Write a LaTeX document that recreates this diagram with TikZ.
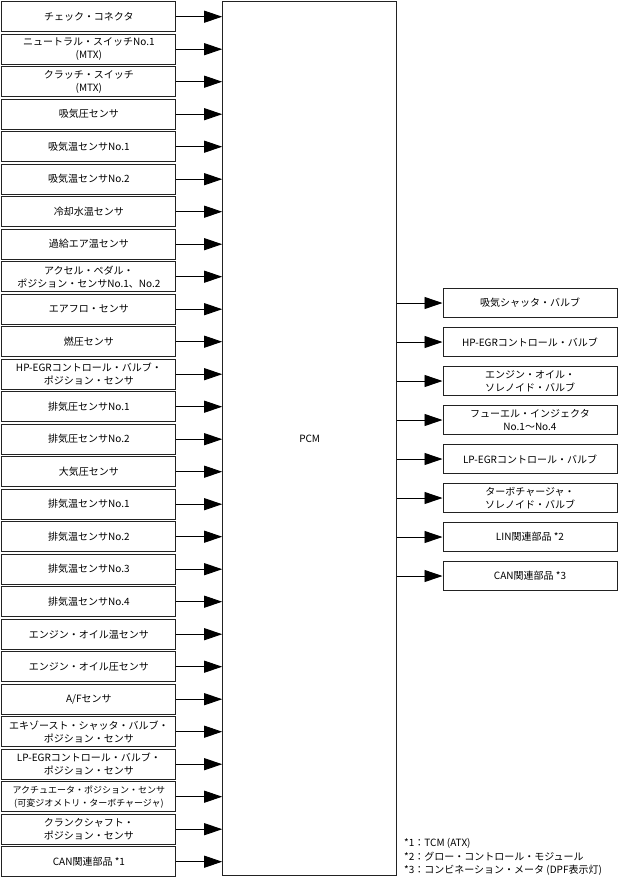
\documentclass[tikz,border=0pt]{standalone}
\usepackage{fontspec}
\setmainfont{Noto Sans CJK JP}
\usetikzlibrary{arrows.meta,positioning}
\definecolor{boxline}{HTML}{222222}
\tikzset{
  inbox/.style={
    draw=boxline,
    line width=1pt,
    minimum width=174pt,
    minimum height=30pt,
    inner sep=1pt,
    align=center,
    font=\fontsize{10}{13.3}\selectfont
  },
  outbox/.style={
    inbox,
    minimum height=29pt
  },
  pcmbox/.style={
    draw=boxline,
    line width=1pt,
    minimum width=174pt,
    minimum height=874pt,
    font=\fontsize{10}{13.3}\selectfont
  },
  notetext/.style={
    inner sep=0pt,
    align=left,
    font=\fontsize{10}{13.5}\selectfont
  },
  arrow/.style={
    -{Triangle[length=18pt,width=12pt]},
    line width=0.9pt,
    draw=black
  }
}
\begin{document}
\begin{tikzpicture}[x=1pt,y=-1pt]
\useasboundingbox (0,0) rectangle (619,878);
\node[pcmbox] (pcm) at (309.7,438.7) {PCM};
% inputs
\foreach \i/\txt in {1/{チェック・コネクタ},
    2/{ニュートラル・スイッチNo.1\\(MTX)},
    3/{クラッチ・スイッチ\\(MTX)},
    4/{吸気圧センサ},
    5/{吸気温センサNo.1},
    6/{吸気温センサNo.2},
    7/{冷却水温センサ},
    8/{過給エア温センサ},
    9/{アクセル・ペダル・\\ポジション・センサNo.1、No.2},
    10/{エアフロ・センサ},
    11/{燃圧センサ},
    12/{HP-EGRコントロール・バルブ・\\ポジション・センサ},
    13/{排気圧センサNo.1},
    14/{排気圧センサNo.2},
    15/{大気圧センサ},
    16/{排気温センサNo.1},
    17/{排気温センサNo.2},
    18/{排気温センサNo.3},
    19/{排気温センサNo.4},
    20/{エンジン・オイル温センサ},
    21/{エンジン・オイル圧センサ},
    22/{A/Fセンサ},
    23/{エキゾースト・シャッタ・バルブ・\\ポジション・センサ},
    24/{LP-EGRコントロール・バルブ・\\ポジション・センサ},
    26/{クランクシャフト・\\ポジション・センサ},
    27/{CAN関連部品 *1}} {
  \node[inbox] (in\i) at (88.9,{16.7+32.5*(\i-1)}) {\txt};
}
\node[inbox, font=\fontsize{9}{13}\selectfont] (in25) at (88.9,{16.7+32.5*24})
  {アクチュエータ・ポジション・センサ\\(可変ジオメトリ・ターボチャージャ)};
% outputs
\foreach \i/\txt in {1/{吸気シャッタ・バルブ},
    2/{HP-EGRコントロール・バルブ},
    3/{エンジン・オイル・\\ソレノイド・バルブ},
    4/{フューエル・インジェクタ\\No.1～No.4},
    5/{LP-EGRコントロール・バルブ},
    6/{ターボチャージャ・\\ソレノイド・バルブ},
    7/{LIN関連部品 *2},
    8/{CAN関連部品 *3}} {
  \node[outbox] (out\i) at (530,{303+39*(\i-1)}) {\txt};
}
\foreach \i in {1,...,27} {
  \draw[arrow] (in\i) -- (in\i -| pcm.west);
}
\foreach \i in {1,...,8} {
  \draw[arrow] (out\i -| pcm.east) -- (out\i);
}
\node[notetext, anchor=north west] (notes) at (404,838.5)
  {*1：TCM (ATX)\\*2：グロー・コントロール・モジュール\\*3：コンビネーション・メータ (DPF表示灯)};
\end{tikzpicture}
\end{document}
